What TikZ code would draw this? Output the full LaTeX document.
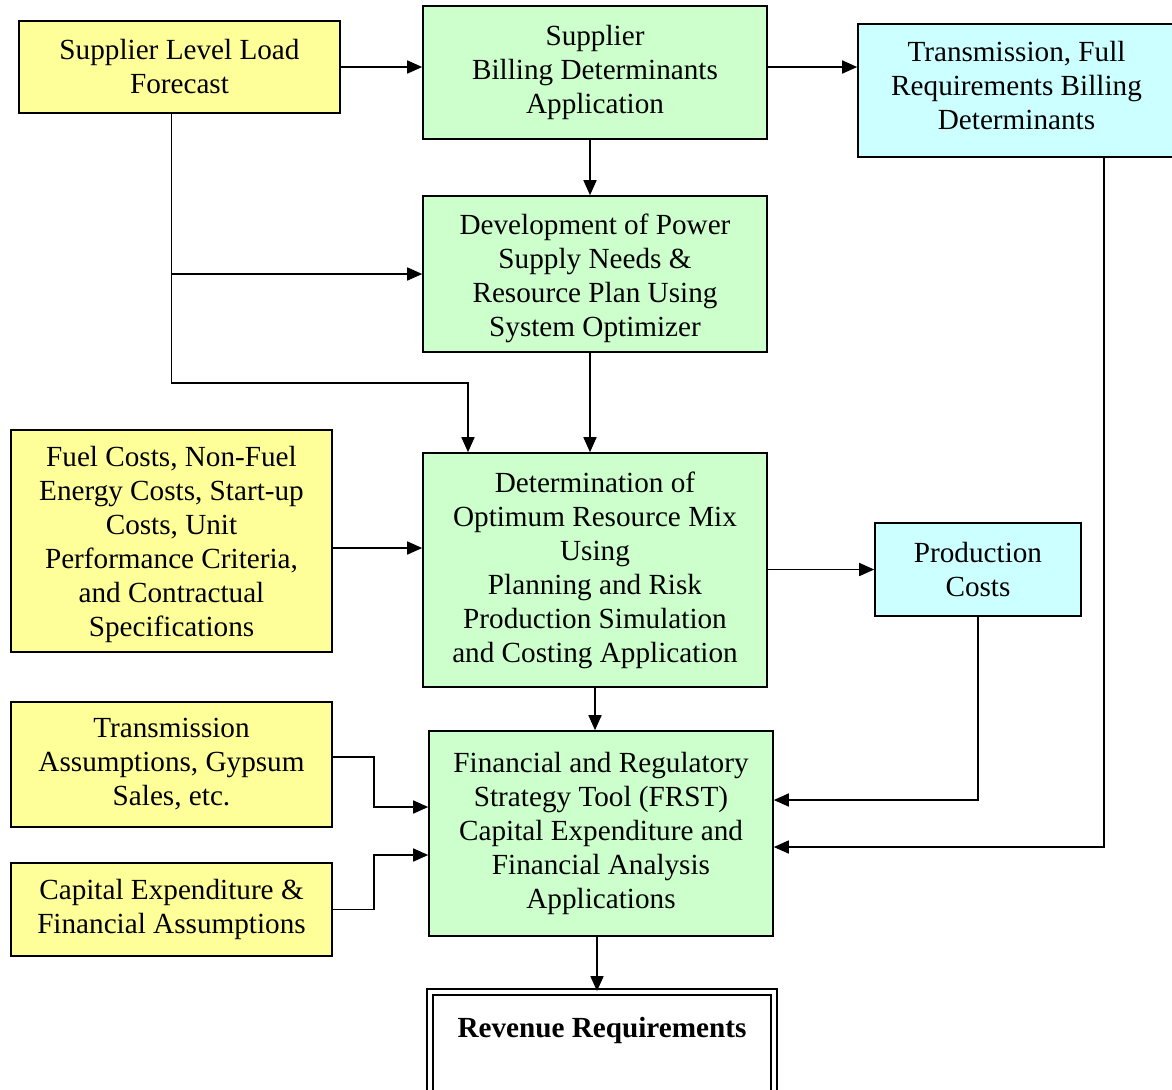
\documentclass[tikz,border=0pt]{standalone}
\usepackage{fontspec}
\setmainfont{Liberation Serif}
\usetikzlibrary{arrows.meta}
\definecolor{loadyellow}{HTML}{FFFF99}
\definecolor{appgreen}{HTML}{CCFFCC}
\definecolor{outcyan}{HTML}{CCFFFF}
\begin{document}
\begin{tikzpicture}[x=0.5pt,y=-0.5pt,
  box/.style={draw,line width=0.8pt,align=center,inner sep=0pt,
    font=\fontsize{14.6}{17}\selectfont},
  ylw/.style={box,fill=loadyellow},
  grn/.style={box,fill=appgreen},
  cyn/.style={box,fill=outcyan},
  arr/.style={line width=0.8pt,-{Triangle[length=7.5pt,width=6.5pt]}}]
  \useasboundingbox (0,0) rectangle (1172,1089);
  % boxes
  \node[ylw,minimum width=160.5pt,minimum height=46pt] (load) at (179.5,67)
    {Supplier Level Load\\Forecast};
  \node[grn,minimum width=172pt,minimum height=66.5pt] (bill) at (595,72.5)
    {Supplier\\Billing Determinants\\Application};
  \node[cyn,minimum width=158.5pt,minimum height=66.5pt] (trans) at (1016.5,90.5)
    {Transmission, Full\\Requirements Billing\\Determinants\rule[-5pt]{0pt}{0pt}};
  \node[grn,minimum width=172pt,minimum height=78pt] (plan) at (595,274)
    {\rule{0pt}{15pt}Development of Power\\Supply Needs \&\\Resource Plan Using\\System Optimizer};
  \node[ylw,minimum width=160.5pt,minimum height=111pt] (fuel) at (171.5,541)
    {\rule{0pt}{14pt}Fuel Costs, Non-Fuel\\Energy Costs, Start-up\\Costs, Unit\\Performance Criteria,\\and Contractual\\Specifications};
  \node[grn,minimum width=172pt,minimum height=117pt] (mix) at (595,570)
    {Determination of\\Optimum Resource Mix\\Using\\Planning and Risk\\Production Simulation\\and Costing Application};
  \node[cyn,minimum width=103pt,minimum height=46.5pt] (prod) at (978,569.5)
    {Production\\Costs};
  \node[ylw,minimum width=160.5pt,minimum height=62.5pt] (tassum) at (171.5,764.5)
    {Transmission\\Assumptions, Gypsum\\Sales, etc.};
  \node[ylw,minimum width=160.5pt,minimum height=46.5pt] (capex) at (171.5,909.5)
    {Capital Expenditure \&\\Financial Assumptions};
  \node[grn,minimum width=172pt,minimum height=102.5pt] (frst) at (601,833.5)
    {Financial and Regulatory\\Strategy Tool (FRST)\\Capital Expenditure and\\Financial Analysis\\Applications};
  \node[box,line width=0.9pt,double,double distance=2.2pt,minimum width=172pt,minimum height=52pt] (rev) at (602,1044)
    {\textbf{Revenue Requirements}\\\mbox{}};
  % connectors
  \coordinate (dropmix) at (468,383);
  \draw[arr] (load.east) -- (load.east -| bill.west);
  \draw[arr] (bill.east |- load.east) -- (load.east -| trans.west);
  \draw[arr] ([xshift=-2.5pt]bill.south) -- ([xshift=-2.5pt]plan.north);
  \draw[arr] ([xshift=-4pt]load.south) |- (dropmix) -- (dropmix |- mix.north);
  \draw[arr] ([xshift=-4pt]load.south |- plan.west) -- (plan.west);
  \draw[arr] ([xshift=-2.5pt]plan.south) -- ([xshift=-2.5pt]mix.north);
  \draw[arr] ([yshift=-3.5pt]fuel.east) -- ([yshift=-3.5pt]fuel.east -| mix.west);
  \draw[arr] (mix.east |- prod.west) -- (prod.west);
  \draw[arr] (mix.south) -- (mix.south |- frst.north);
  \draw[arr] ([yshift=3.75pt]tassum.east) -- ++(20.5pt,0) |- ([yshift=13.25pt]frst.west);
  \draw[arr] (capex.east) -- ++(20.5pt,0) |- ([yshift=-10.75pt]frst.west);
  \draw[arr] (prod.south) |- ([yshift=16.75pt]frst.east);
  \draw[arr] ([xshift=43.75pt]trans.south) |- ([yshift=-6.75pt]frst.east);
  \draw[arr] ([xshift=-2pt]frst.south) -- ([xshift=-2pt]frst.south |- rev.north);
\end{tikzpicture}
\end{document}
